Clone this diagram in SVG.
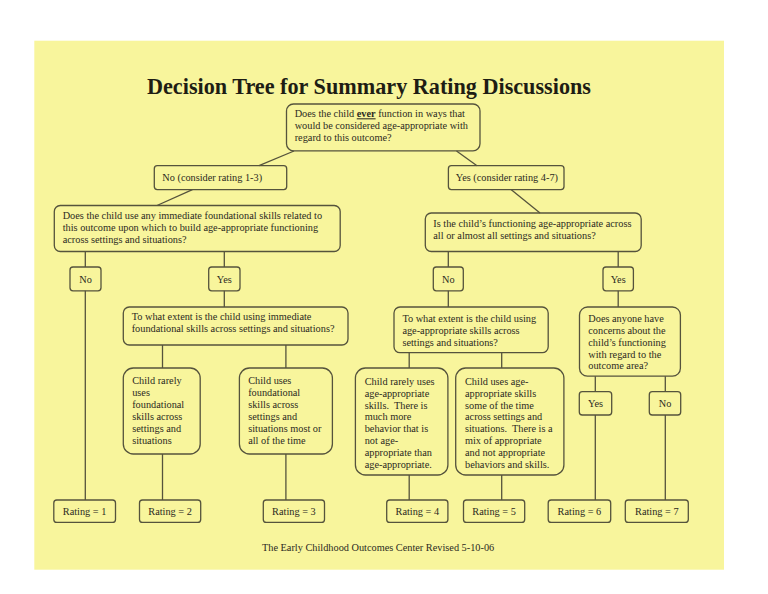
<svg xmlns="http://www.w3.org/2000/svg" width="768" height="594" viewBox="0 0 768 594">
<style>
.bg{fill:#f8f59c}
.box{fill:none;stroke:#55533c;stroke-width:1.3}
.ln{stroke:#55533c;stroke-width:1.3;fill:none}
text{font-family:"Liberation Serif","Times New Roman",serif;font-size:10.3px;fill:#2b2a1e;white-space:pre}
.c{text-anchor:middle}
.title{font-size:22.2px;font-weight:bold;fill:#1e1d14}
</style>
<rect x="0" y="0" width="768" height="594" fill="#ffffff"/>
<rect class="bg" x="34.3" y="40.7" width="689.7" height="529"/>
<text class="title" x="147" y="94">Decision Tree for Summary Rating Discussions</text>

<g id="connectors">
<line class="ln" x1="294" y1="151" x2="259" y2="165.7"/>
<line class="ln" x1="456.5" y1="151" x2="477" y2="165.7"/>
<line class="ln" x1="192.4" y1="189.6" x2="157" y2="205.5"/>
<line class="ln" x1="511" y1="189.6" x2="540" y2="213"/>
<line class="ln" x1="85.3" y1="251.5" x2="85.3" y2="267"/>
<line class="ln" x1="85.3" y1="290.8" x2="85.3" y2="500"/>
<line class="ln" x1="224.3" y1="251.5" x2="224.3" y2="267"/>
<line class="ln" x1="224.3" y1="290.8" x2="224.3" y2="307"/>
<line class="ln" x1="448.3" y1="251.5" x2="448.3" y2="267"/>
<line class="ln" x1="448.3" y1="290.8" x2="448.3" y2="307"/>
<line class="ln" x1="618.2" y1="251.5" x2="618.2" y2="267"/>
<line class="ln" x1="618.2" y1="290.8" x2="618.2" y2="307"/>
<line class="ln" x1="162.5" y1="345" x2="162.5" y2="368"/>
<line class="ln" x1="162.5" y1="454" x2="162.5" y2="500"/>
<line class="ln" x1="285.9" y1="345" x2="285.9" y2="368"/>
<line class="ln" x1="285.9" y1="454" x2="285.9" y2="500"/>
<line class="ln" x1="409.2" y1="352.7" x2="409.2" y2="368"/>
<line class="ln" x1="409.2" y1="475" x2="409.2" y2="500"/>
<line class="ln" x1="501.7" y1="352.7" x2="501.7" y2="368"/>
<line class="ln" x1="501.7" y1="475" x2="501.7" y2="500"/>
<line class="ln" x1="595.3" y1="376.2" x2="595.3" y2="391.7"/>
<line class="ln" x1="595.3" y1="415" x2="595.3" y2="500"/>
<line class="ln" x1="665.3" y1="376.2" x2="665.3" y2="391.7"/>
<line class="ln" x1="665.3" y1="415" x2="665.3" y2="500"/>
</g>

<g id="q-ever">
<rect class="box" x="286.5" y="104" width="193.5" height="46.8" rx="7"/>
<text x="294.7" y="117.3">Does the child <tspan font-weight="bold" text-decoration="underline">ever</tspan> function in ways that</text>
<text x="294.7" y="129.3">would be considered age-appropriate with</text>
<text x="294.7" y="141.3">regard to this outcome?</text>
</g>

<g id="no-1-3">
<rect class="box" x="154.3" y="165.7" width="132.4" height="23.9" rx="3"/>
<text x="162.3" y="181">No (consider rating 1-3)</text>
</g>

<g id="yes-4-7">
<rect class="box" x="448.4" y="165.7" width="115.6" height="23.9" rx="3"/>
<text x="455.8" y="181">Yes (consider rating 4-7)</text>
</g>

<g id="q-foundational">
<rect class="box" x="54.3" y="205.5" width="285.9" height="46" rx="6"/>
<text x="62.7" y="219">Does the child use any immediate foundational skills related to</text>
<text x="62.7" y="231">this outcome upon which to build age-appropriate functioning</text>
<text x="62.7" y="243">across settings and situations?</text>
</g>

<g id="q-age-appropriate">
<rect class="box" x="425.3" y="213" width="215.9" height="38.5" rx="6"/>
<text x="433.3" y="227.3">Is the child’s functioning age-appropriate across</text>
<text x="433.3" y="239.3">all or almost all settings and situations?</text>
</g>

<g id="no-a">
<rect class="box" x="70" y="267" width="31" height="23.8" rx="3"/>
<text class="c" x="85.5" y="282.5">No</text>
</g>
<g id="yes-a">
<rect class="box" x="208.7" y="267" width="31.3" height="23.8" rx="3"/>
<text class="c" x="224.3" y="282.5">Yes</text>
</g>
<g id="no-b">
<rect class="box" x="433.3" y="267" width="30" height="23.8" rx="3"/>
<text class="c" x="448.3" y="282.5">No</text>
</g>
<g id="yes-b">
<rect class="box" x="603" y="267" width="30.4" height="23.8" rx="3"/>
<text class="c" x="618.2" y="282.5">Yes</text>
</g>

<g id="q-extent-foundational">
<rect class="box" x="123.3" y="307" width="224.7" height="38" rx="6"/>
<text x="131.7" y="320.3">To what extent is the child using immediate</text>
<text x="131.7" y="332.3">foundational skills across settings and situations?</text>
</g>

<g id="q-extent-age">
<rect class="box" x="394" y="307" width="154.2" height="45.7" rx="6"/>
<text x="402.4" y="321.5">To what extent is the child using</text>
<text x="402.4" y="333.5">age-appropriate skills across</text>
<text x="402.4" y="345.5">settings and situations?</text>
</g>

<g id="q-concerns">
<rect class="box" x="579.5" y="307" width="100.9" height="69.2" rx="8"/>
<text x="588.3" y="321.8">Does anyone have</text>
<text x="588.3" y="333.7">concerns about the</text>
<text x="588.3" y="345.6">child’s functioning</text>
<text x="588.3" y="357.5">with regard to the</text>
<text x="588.3" y="369.4">outcome area?</text>
</g>

<g id="rarely-foundational">
<rect class="box" x="123.3" y="368" width="76.9" height="86" rx="10"/>
<text x="132.2" y="384">Child rarely</text>
<text x="132.2" y="396">uses</text>
<text x="132.2" y="408">foundational</text>
<text x="132.2" y="420">skills across</text>
<text x="132.2" y="432">settings and</text>
<text x="132.2" y="444">situations</text>
</g>

<g id="uses-foundational">
<rect class="box" x="239.4" y="368" width="93" height="86" rx="10"/>
<text x="248.2" y="384">Child uses</text>
<text x="248.2" y="396">foundational</text>
<text x="248.2" y="408">skills across</text>
<text x="248.2" y="420">settings and</text>
<text x="248.2" y="432">situations most or</text>
<text x="248.2" y="444">all of the time</text>
</g>

<g id="rarely-age">
<rect class="box" x="355.4" y="368" width="92.5" height="107" rx="10"/>
<text x="364.7" y="384.7">Child rarely uses</text>
<text x="364.7" y="396.6">age-appropriate</text>
<text x="364.7" y="408.5">skills.  There is</text>
<text x="364.7" y="420.4">much more</text>
<text x="364.7" y="432.3">behavior that is</text>
<text x="364.7" y="444.2">not age-</text>
<text x="364.7" y="456.1">appropriate than</text>
<text x="364.7" y="468">age-appropriate.</text>
</g>

<g id="uses-age">
<rect class="box" x="455.7" y="368" width="108.2" height="107" rx="10"/>
<text x="465" y="384.7">Child uses age-</text>
<text x="465" y="396.6">appropriate skills</text>
<text x="465" y="408.5">some of the time</text>
<text x="465" y="420.4">across settings and</text>
<text x="465" y="432.3">situations.  There is a</text>
<text x="465" y="444.2">mix of appropriate</text>
<text x="465" y="456.1">and not appropriate</text>
<text x="465" y="468">behaviors and skills.</text>
</g>

<g id="yes-c">
<rect class="box" x="579.3" y="391.7" width="32.4" height="23.3" rx="3"/>
<text class="c" x="595.5" y="406.8">Yes</text>
</g>
<g id="no-c">
<rect class="box" x="649.3" y="391.7" width="31.4" height="23.3" rx="3"/>
<text class="c" x="665" y="406.8">No</text>
</g>

<g id="rating-1"><rect class="box" x="53.8" y="500" width="61.7" height="22.4" rx="3"/><text class="c" x="84.6" y="514.6">Rating = 1</text></g>
<g id="rating-2"><rect class="box" x="139.5" y="500" width="61.2" height="22.4" rx="3"/><text class="c" x="170.1" y="514.6">Rating = 2</text></g>
<g id="rating-3"><rect class="box" x="263.3" y="500" width="61.2" height="22.4" rx="3"/><text class="c" x="293.9" y="514.6">Rating = 3</text></g>
<g id="rating-4"><rect class="box" x="386.7" y="500" width="61.2" height="22.4" rx="3"/><text class="c" x="417.3" y="514.6">Rating = 4</text></g>
<g id="rating-5"><rect class="box" x="463.5" y="500" width="61.2" height="22.4" rx="3"/><text class="c" x="494.1" y="514.6">Rating = 5</text></g>
<g id="rating-6"><rect class="box" x="548.2" y="500" width="62.5" height="22.4" rx="3"/><text class="c" x="579.4" y="514.6">Rating = 6</text></g>
<g id="rating-7"><rect class="box" x="625.3" y="500" width="63" height="22.4" rx="3"/><text class="c" x="656.8" y="514.6">Rating = 7</text></g>

<text x="262" y="551">The Early Childhood Outcomes Center Revised 5-10-06</text>
</svg>
